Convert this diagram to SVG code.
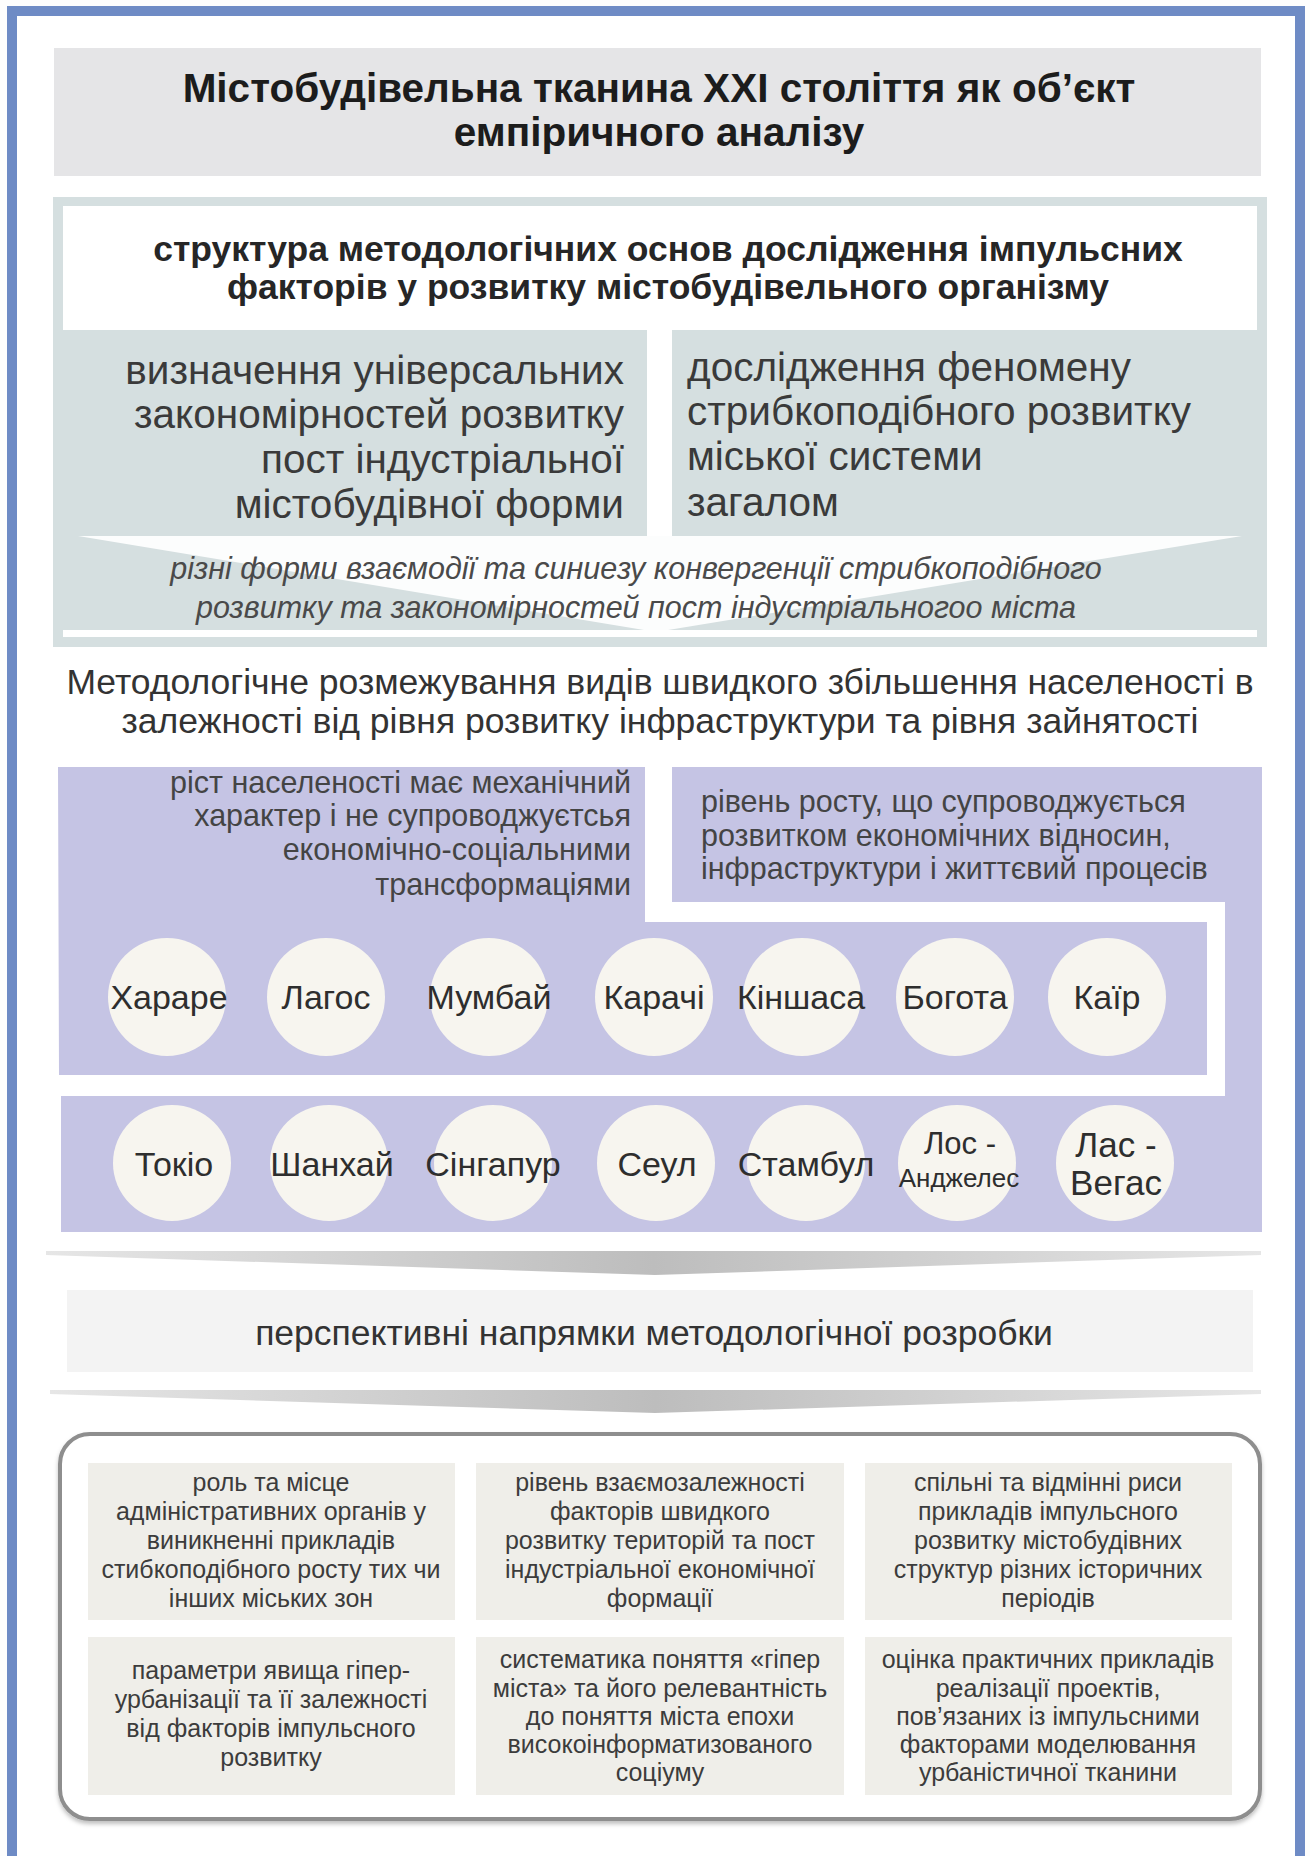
<svg xmlns="http://www.w3.org/2000/svg" width="1310" height="1856" viewBox="0 0 1310 1856">
<defs>
<style>
text{font-family:"Liberation Sans",Arial,sans-serif;}
.title{font-size:40.5px;font-weight:bold;fill:#1c1c1c;text-anchor:middle;}
.sub{font-size:35.5px;font-weight:bold;fill:#262626;text-anchor:middle;}
.col{font-size:40.5px;fill:#3a3a3a;}
.ital{font-size:30.5px;font-style:italic;fill:#4a4a4a;text-anchor:middle;}
.h3{font-size:35.5px;fill:#333;text-anchor:middle;}
.pt{font-size:30.5px;fill:#444;}
.city{font-size:34px;fill:#2e2e2e;text-anchor:middle;}
.persp{font-size:35.5px;fill:#333;text-anchor:middle;}
.bx{font-size:25px;fill:#3c3c3c;text-anchor:middle;}
.purple{fill:#c5c4e4;}
.circ{fill:#f7f5ef;}
.cell{fill:#efeee9;}
</style>
<linearGradient id="chev" x1="0" y1="0" x2="1" y2="0">
<stop offset="0" stop-color="#e6e6e6"/>
<stop offset="0.5" stop-color="#bdbdbd"/>
<stop offset="1" stop-color="#e6e6e6"/>
</linearGradient>
<filter id="shadow" x="-5%" y="-5%" width="110%" height="115%">
<feDropShadow dx="0" dy="3" stdDeviation="2" flood-color="#000" flood-opacity="0.25"/>
</filter>
</defs>
<rect x="0" y="0" width="1310" height="1856" fill="#fdfdfd"/>
<rect id="frame" x="12" y="11" width="1288" height="1900" fill="#ffffff" stroke="#6e8bc5" stroke-width="10"/>

<g id="title">
<rect x="54" y="48" width="1207" height="128" fill="#e5e5e7"/>
<text class="title" x="659" y="102">Містобудівельна тканина XXI століття як об’єкт</text>
<text class="title" x="659" y="146">емпіричного аналізу</text>
</g>

<g id="methodology">
<rect x="53" y="197" width="1214" height="450" fill="#d5dfe0"/>
<rect x="63" y="206" width="1194" height="124" fill="#ffffff"/>
<text class="sub" x="668" y="261">структура методологічних основ дослідження імпульсних</text>
<text class="sub" x="668" y="299">факторів у розвитку містобудівельного організму</text>
<rect x="647" y="330" width="25" height="206" fill="#ffffff"/>
<polygon points="78,536 1242,536 656,632" fill="#ffffff" opacity="0.92"/>
<rect x="63" y="630" width="1194" height="7" fill="#ffffff"/>
</g>

<g id="universal">
<text class="col" x="624" y="384" text-anchor="end">визначення універсальних</text>
<text class="col" x="624" y="428" text-anchor="end">закономірностей розвитку</text>
<text class="col" x="624" y="473" text-anchor="end">пост індустріальної</text>
<text class="col" x="624" y="518" text-anchor="end">містобудівної форми</text>
</g>

<g id="phenomenon">
<text class="col" x="687" y="381">дослідження феномену</text>
<text class="col" x="687" y="425">стрибкоподібного розвитку</text>
<text class="col" x="687" y="470">міської системи</text>
<text class="col" x="687" y="516">загалом</text>
</g>

<g id="synthesis">
<text class="ital" x="636" y="579">різні форми взаємодії та синиезу конвергенції стрибкоподібного</text>
<text class="ital" x="636" y="618">розвитку та закономірностей пост індустріальногоо міста</text>
</g>

<g id="delimitation">
<text class="h3" x="660" y="694">Методологічне розмежування видів швидкого збільшення населеності в</text>
<text class="h3" x="660" y="733">залежності від рівня розвитку інфраструктури та рівня зайнятості</text>
</g>

<g id="mechanical">
<polygon class="purple" points="58,767 645,767 645,922 1207,922 1207,1075 59,1075"/>
<text class="pt" x="631" y="793" text-anchor="end">ріст населеності має механічний</text>
<text class="pt" x="631" y="826" text-anchor="end">характер і не супроводжуєтсья</text>
<text class="pt" x="631" y="860" text-anchor="end">економічно-соціальними</text>
<text class="pt" x="631" y="895" text-anchor="end">трансформаціями</text>
</g>

<g id="economic">
<polygon class="purple" points="672,767 1262,767 1262,1232 61,1232 61,1096 1225,1096 1225,902 672,902"/>
<text class="pt" x="701" y="812">рівень росту, що супроводжується</text>
<text class="pt" x="701" y="846">розвитком економічних відносин,</text>
<text class="pt" x="701" y="879">інфраструктури і життєвий процесів</text>
</g>

<g id="city-harare"><ellipse class="circ" cx="167" cy="997" rx="59" ry="59"/><text class="city" x="169" y="1009">Хараре</text></g>
<g id="city-lagos"><ellipse class="circ" cx="326" cy="997" rx="59" ry="59"/><text class="city" x="326" y="1009">Лагос</text></g>
<g id="city-mumbai"><ellipse class="circ" cx="489" cy="997" rx="59" ry="59"/><text class="city" x="489" y="1009">Мумбай</text></g>
<g id="city-karachi"><ellipse class="circ" cx="654" cy="997" rx="59" ry="59"/><text class="city" x="654" y="1009">Карачі</text></g>
<g id="city-kinshasa"><ellipse class="circ" cx="802" cy="997" rx="59" ry="59"/><text class="city" x="801" y="1009">Кіншаса</text></g>
<g id="city-bogota"><ellipse class="circ" cx="955" cy="997" rx="59" ry="59"/><text class="city" x="955" y="1009">Богота</text></g>
<g id="city-cairo"><ellipse class="circ" cx="1107" cy="997" rx="59" ry="59"/><text class="city" x="1107" y="1009">Каїр</text></g>

<g id="city-tokyo"><ellipse class="circ" cx="172" cy="1163" rx="59" ry="58"/><text class="city" x="174" y="1176">Токіо</text></g>
<g id="city-shanghai"><ellipse class="circ" cx="329" cy="1163" rx="59" ry="58"/><text class="city" x="332" y="1176">Шанхай</text></g>
<g id="city-singapore"><ellipse class="circ" cx="493" cy="1163" rx="59" ry="58"/><text class="city" x="493" y="1176">Сінгапур</text></g>
<g id="city-seoul"><ellipse class="circ" cx="656" cy="1163" rx="59" ry="58"/><text class="city" x="657" y="1176">Сеул</text></g>
<g id="city-istanbul"><ellipse class="circ" cx="806" cy="1163" rx="59" ry="58"/><text class="city" x="806" y="1176">Стамбул</text></g>
<g id="city-la"><ellipse class="circ" cx="957" cy="1163" rx="59" ry="58"/><text class="city" x="960" y="1154" style="font-size:31px">Лос -</text><text class="city" x="959" y="1187" style="font-size:26px">Анджелес</text></g>
<g id="city-lv"><ellipse class="circ" cx="1115" cy="1163" rx="59" ry="58"/><text class="city" x="1116" y="1157" style="font-size:35px">Лас -</text><text class="city" x="1116" y="1195" style="font-size:35px">Вегас</text></g>

<g id="connectors">
<polygon points="46,1251 1261,1251 1261,1255 655,1275 46,1255" fill="url(#chev)"/>
<polygon points="50,1390 1261,1390 1261,1394 655,1413 50,1394" fill="url(#chev)"/>
</g>

<g id="perspective">
<rect x="67" y="1290" width="1186" height="82" fill="#f3f3f3"/>
<text class="persp" x="654" y="1345">перспективні напрямки методологічної розробки</text>
</g>

<g id="directions">
<rect x="60" y="1434" width="1200" height="385" rx="30" ry="30" fill="#ffffff" stroke="#8e8e8e" stroke-width="4" filter="url(#shadow)"/>
</g>

<g id="dir-1"><rect class="cell" x="88" y="1463" width="367" height="157"/>
<text class="bx" x="271" y="1491">роль та місце</text>
<text class="bx" x="271" y="1520">адміністративних органів у</text>
<text class="bx" x="271" y="1549">виникненні прикладів</text>
<text class="bx" x="271" y="1578">стибкоподібного росту тих чи</text>
<text class="bx" x="271" y="1607">інших міських зон</text></g>

<g id="dir-2"><rect class="cell" x="476" y="1463" width="368" height="157"/>
<text class="bx" x="660" y="1491">рівень взаємозалежності</text>
<text class="bx" x="660" y="1520">факторів швидкого</text>
<text class="bx" x="660" y="1549">розвитку територій та пост</text>
<text class="bx" x="660" y="1578">індустріальної економічної</text>
<text class="bx" x="660" y="1607">формації</text></g>

<g id="dir-3"><rect class="cell" x="865" y="1463" width="367" height="157"/>
<text class="bx" x="1048" y="1491">спільні та відмінні риси</text>
<text class="bx" x="1048" y="1520">прикладів імпульсного</text>
<text class="bx" x="1048" y="1549">розвитку містобудівних</text>
<text class="bx" x="1048" y="1578">структур різних історичних</text>
<text class="bx" x="1048" y="1607">періодів</text></g>

<g id="dir-4"><rect class="cell" x="88" y="1637" width="367" height="158"/>
<text class="bx" x="271" y="1679">параметри явища гіпер-</text>
<text class="bx" x="271" y="1708">урбанізації та її залежності</text>
<text class="bx" x="271" y="1737">від факторів імпульсного</text>
<text class="bx" x="271" y="1766">розвитку</text></g>

<g id="dir-5"><rect class="cell" x="476" y="1637" width="368" height="158"/>
<text class="bx" x="660" y="1668">систематика поняття «гіпер</text>
<text class="bx" x="660" y="1697">міста» та його релевантність</text>
<text class="bx" x="660" y="1725">до поняття міста епохи</text>
<text class="bx" x="660" y="1753">високоінформатизованого</text>
<text class="bx" x="660" y="1781">соціуму</text></g>

<g id="dir-6"><rect class="cell" x="865" y="1637" width="367" height="158"/>
<text class="bx" x="1048" y="1668">оцінка практичних прикладів</text>
<text class="bx" x="1048" y="1697">реалізації проектів,</text>
<text class="bx" x="1048" y="1725">пов’язаних із імпульсними</text>
<text class="bx" x="1048" y="1753">факторами моделювання</text>
<text class="bx" x="1048" y="1781">урбаністичної тканини</text></g>
</svg>
